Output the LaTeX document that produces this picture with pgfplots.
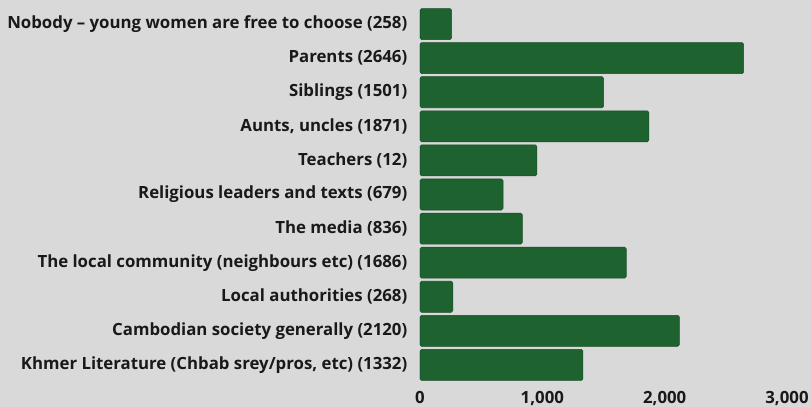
\documentclass[border=0pt]{standalone}
\usepackage{fontspec}
\setmainfont{Open Sans}
\usepackage{pgfplots}
\pgfplotsset{compat=1.18}
\definecolor{bggray}{HTML}{D9D9D9}
\definecolor{bargreen}{HTML}{1E6230}
\begin{document}
\begin{tikzpicture}
\fill[bggray] (-315pt,-18.75pt) rectangle (293.25pt,286.5pt);
\begin{axis}[
  at={(0,0)}, anchor=south west,
  scale only axis,
  width=275.25pt, height=281.25pt,
  xbar, bar width=0.91,
  y dir=reverse,
  xmin=0, xmax=3000,
  ymin=-0.5, ymax=10.5,
  xtick={0,1000,2000,3000},
  ytick={0,...,10},
  yticklabels={
    Nobody – young women are free to choose (258),
    Parents (2646),
    Siblings (1501),
    {Aunts, uncles (1871)},
    Teachers (12),
    Religious leaders and texts (679),
    The media (836),
    The local community (neighbours etc) (1686),
    Local authorities (268),
    Cambodian society generally (2120),
    {Khmer Literature (Chbab srey/pros, etc) (1332)}
  },
  axis line style={draw=none},
  major tick length=0pt,
  tick label style={font=\bfseries\fontsize{12.6}{14}\selectfont, text=black!90},
  /pgf/number format/assume math mode=true,
  /pgf/number format/1000 sep={,},
  scaled x ticks=false,
  yticklabel style={xshift=-6pt},
  xticklabel style={yshift=-3.5pt},
]
\addplot[fill=bargreen, draw=bargreen!80!black, rounded corners=1.2pt] coordinates {
  (258,0) (2646,1) (1501,2) (1871,3) (956,4) (679,5)
  (836,6) (1686,7) (268,8) (2120,9) (1332,10)
};
\end{axis}
\pgfresetboundingbox
\useasboundingbox (-315pt,-18.75pt) rectangle (293.25pt,286.5pt);
\end{tikzpicture}
\end{document}
